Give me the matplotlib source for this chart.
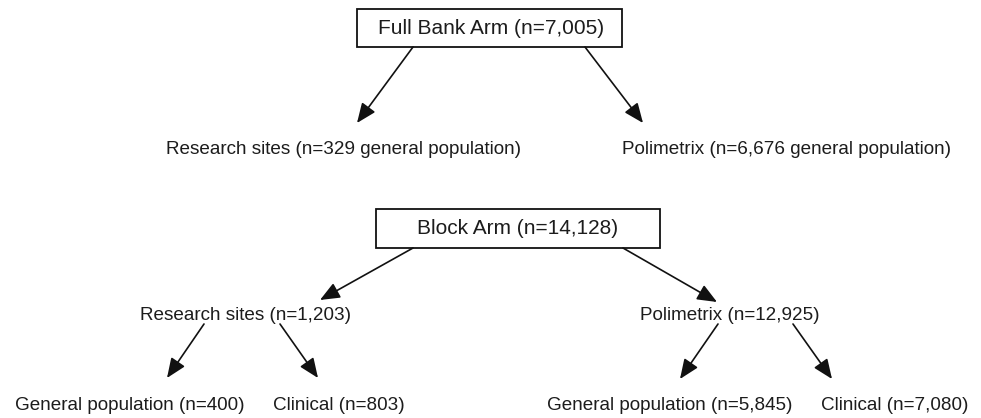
import matplotlib
matplotlib.use("Agg")
import matplotlib.pyplot as plt
from matplotlib.patches import FancyArrowPatch, Rectangle

# ---- data ----
arm_labels = ["Full Bank Arm", "Block Arm"]
arm_n = [7005, 14128]
full_site_labels = ["Research sites", "Polimetrix"]
full_site_n = [329, 6676]
block_site_labels = ["Research sites", "Polimetrix"]
block_site_n = [1203, 12925]
block_group_labels = ["General population", "Clinical", "General population", "Clinical"]
block_group_n = [400, 803, 5845, 7080]

# ---- layout (pixel coordinates, y downward) ----
W, H = 981, 418
fig = plt.figure(figsize=(W / 100, H / 100), dpi=100)
ax = fig.add_axes([0, 0, 1, 1])
ax.set_xlim(0, W)
ax.set_ylim(H, 0)
ax.axis("off")

FONT = "Liberation Sans"
TXT = "#1c1c1c"
BIG = 15
SMALL = 13.6

def box(x0, x1, y0, y1, text, cx, cy):
    ax.add_patch(Rectangle((x0, y0), x1 - x0, y1 - y0, fill=False,
                           lw=1.3, ec="#111111"))
    ax.text(cx, cy, text, ha="center", va="center", fontsize=BIG,
            family=FONT, color=TXT)

def label(cx, cy, text):
    ax.text(cx, cy, text, ha="center", va="center", fontsize=SMALL,
            family=FONT, color=TXT)

def arrow(p0, p1):
    ax.add_patch(FancyArrowPatch(p0, p1, arrowstyle="-|>,head_length=1.2,head_width=0.5",
                                 mutation_scale=10, lw=1.2, color="#111111",
                                 shrinkA=0, shrinkB=0))

# Full bank arm
box(357, 622, 9, 47, f"{arm_labels[0]} (n={arm_n[0]:,})", 491, 29)
arrow((413, 47), (357, 123))
arrow((585, 47), (643, 123))
label(344, 150, f"{full_site_labels[0]} (n={full_site_n[0]:,} general population)")
label(787, 150, f"{full_site_labels[1]} (n={full_site_n[1]:,} general population)")

# Block arm
box(376, 660, 209, 248, f"{arm_labels[1]} (n={arm_n[1]:,})", 518, 229)
arrow((413, 248), (320, 300))
arrow((623, 248), (717, 302))
label(245, 316, f"{block_site_labels[0]} (n={block_site_n[0]:,})")
label(730, 316, f"{block_site_labels[1]} (n={block_site_n[1]:,})")

arrow((204, 324), (167, 378))
arrow((280, 324), (318, 378))
arrow((718, 324), (680, 379))
arrow((793, 324), (832, 379))

gx = [130, 339, 670, 895]
for x, lab, n in zip(gx, block_group_labels, block_group_n):
    label(x, 405, f"{lab} (n={n:,})")

fig.savefig("out.png", dpi=100)
